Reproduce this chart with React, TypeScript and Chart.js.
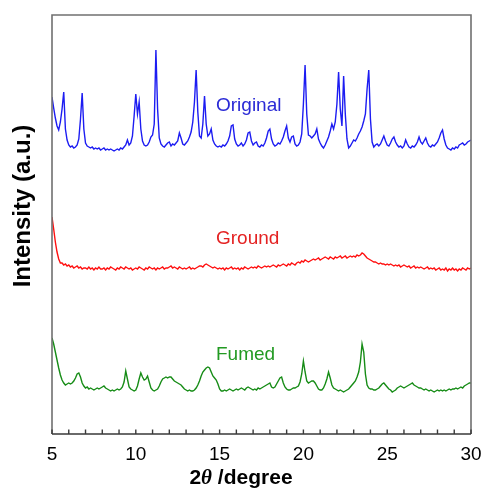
import { useEffect, useRef } from "react";
import { Chart, registerables } from "chart.js";

Chart.register(...registerables);

// 2θ sampling grid: START, START+STEP, ... 30
const TWO_THETA_START = 5;
const TWO_THETA_STEP = 0.1;

// Intensities (a.u.), one row per degree (x.0 ... x.9), last value at 30.0
const ORIGINAL = [
  337, 326, 316, 308, 304, 312, 325, 342, 305, 294,
  289, 287, 288, 286, 287, 289, 295, 315, 341, 305,
  291, 288, 287, 286, 287, 285, 286, 285, 286, 284,
  285, 286, 284, 285, 284, 285, 284, 283, 284, 285,
  284, 286, 285, 287, 289, 294, 289, 291, 298, 318,
  340, 320, 332, 305, 293, 289, 288, 289, 292, 297,
  299, 310, 384, 325, 296, 290, 288, 287, 289, 291,
  292, 288, 290, 289, 291, 293, 301, 296, 290, 289,
  291, 293, 297, 302, 312, 332, 364, 322, 298, 296,
  310, 338, 310, 298, 300, 305, 294, 290, 288, 287,
  288, 287, 289, 288, 290, 293, 298, 308, 309, 295,
  290, 288, 289, 291, 288, 290, 294, 301, 302, 293,
  289, 291, 292, 288, 287, 289, 288, 291, 296, 303,
  305, 295, 290, 288, 289, 291, 290, 293, 297, 303,
  308, 296, 292, 297, 298, 290, 288, 289, 292, 300,
  330, 369, 320, 299, 298, 296, 298, 300, 305, 295,
  291, 288, 286, 289, 293, 297, 303, 310, 305, 312,
  330, 362, 325, 308, 358, 320, 295, 286, 288, 291,
  294, 293, 296, 300, 303, 307, 313, 320, 345, 364,
  315, 292, 287, 289, 290, 288, 290, 294, 298, 293,
  289, 288, 291, 295, 297, 292, 289, 287, 288, 286,
  288, 294, 290, 287, 286, 288, 287, 289, 292, 297,
  292, 290, 293, 296, 291, 288, 287, 289, 288, 290,
  292, 296, 301, 304, 295, 289, 286, 285, 284, 286,
  285, 287, 286, 289, 290, 291, 289, 290, 292, 293,
  294,
];

const GROUND = [
  217, 205, 192, 182, 175, 171, 171, 169, 170, 168,
  169, 167, 168, 166, 167, 168, 166, 167, 165, 166,
  166, 165, 167, 165, 166, 164, 166, 165, 167, 165,
  165, 166, 164, 166, 165, 167, 166, 165, 164, 166,
  165, 167, 166, 165, 167, 166, 165, 166, 164, 165,
  166, 165, 167, 166, 165, 164, 166, 165, 167, 166,
  165, 166, 164, 166, 165, 166, 167, 165, 166, 166,
  167, 168, 166, 167, 166, 165, 167, 166, 165, 166,
  165, 166, 167, 165, 166, 165, 166, 167, 168, 168,
  167, 169, 170, 169, 168, 167, 166, 167, 166, 165,
  166, 165, 166, 164, 166, 165, 166, 167, 165, 166,
  165, 166, 164, 166, 165, 167, 166, 165, 166, 167,
  166, 167, 166, 168, 167, 166, 167, 168, 167, 168,
  167, 168, 169, 168, 167, 169, 168, 169, 170, 169,
  168, 170, 169, 171, 170, 169, 171, 172, 171, 173,
  172, 174, 173, 172, 173, 174, 175, 174, 175, 176,
  174, 175, 176, 177, 176, 175, 177, 176, 175, 177,
  176, 177, 178, 176, 177, 178, 176, 177, 178, 177,
  178, 177, 179, 178, 179, 181, 180, 178, 176, 175,
  174, 173, 172, 172, 171, 170, 171, 170, 170, 169,
  170, 169, 170, 169, 168, 169, 168, 169, 167, 168,
  169, 168, 167, 168, 166, 167, 168, 166, 167, 166,
  167, 166, 165, 166, 167, 165, 166, 165, 166, 164,
  165, 166, 164, 165, 164, 166, 163, 165, 164, 166,
  164, 165, 163, 165, 164, 166, 165, 164, 166, 165,
  166,
];

const FUMED = [
  96, 90, 82, 74, 66, 59, 54, 51, 49, 50,
  51, 50, 51, 53, 56, 60, 61, 57, 51, 48,
  46, 47, 45, 46, 45, 44, 45, 46, 45, 46,
  47, 48, 46, 45, 44, 43, 44, 43, 44, 45,
  44, 45, 47, 52, 63, 55, 47, 45, 44, 43,
  44, 48, 55, 61, 57, 54, 55, 58, 52, 46,
  44, 43, 44, 45, 48, 52, 55, 56, 57, 56,
  57, 57, 55, 53, 52, 51, 50, 49, 47, 45,
  44, 43, 44, 43, 43, 44, 46, 49, 53, 58,
  62, 64, 66, 67, 66, 62, 58, 56, 54, 50,
  45, 43, 43, 44, 43, 44, 45, 44, 43, 44,
  45, 44, 45, 46, 45, 44, 46, 47, 46, 45,
  44, 45, 44, 46, 45, 46, 47, 48, 49, 50,
  51, 47, 46, 47, 50, 53, 56, 57, 51, 47,
  45, 44, 44, 45, 46, 46, 47, 48, 52, 60,
  73, 62, 53, 51, 52, 53, 53, 51, 48, 45,
  44, 44, 46, 50, 55, 62, 56, 49, 46, 45,
  44, 43, 44, 43, 42, 43, 44, 45, 47, 49,
  51, 53, 57, 62, 72, 90, 82, 60, 49, 46,
  45, 45, 44, 44, 45, 46, 48, 50, 51, 49,
  47, 45, 44, 42, 43, 44, 46, 47, 48, 47,
  46, 47, 48, 49, 50, 51, 49, 48, 47, 46,
  46, 45, 44, 45, 44, 43, 44, 43, 42, 43,
  44, 43, 44, 43, 44, 43, 44, 45, 44, 45,
  45, 46, 45, 46, 47, 46, 48, 49, 50, 51,
  51,
];

const SERIES_NAMES = ["Original", "Ground", "Fumed"];
const X_TICKS = [5, 10, 15, 20, 25, 30];
const X_MIN = 5;
const X_MAX = 30;
const Y_MIN = 0;
const Y_MAX = 419;

const LINE_COLORS = ["#1c1cf2", "#ff1010", "#168c16"];
const TEXT_COLORS = ["#2a2ad6", "#e42222", "#229a22"];
const LABEL_BASELINES = [111, 244, 360];
const FONT = "'Liberation Sans', Arial, sans-serif";

function toPoints(vals: number[]) {
  return vals.map((v, i) => ({
    x: Math.round((TWO_THETA_START + i * TWO_THETA_STEP) * 10) / 10,
    y: v,
  }));
}

const decorPlugin = {
  id: "decor",
  afterDraw(chart: any) {
    const ctx = chart.ctx;
    const a = chart.chartArea;
    const xs = chart.scales.x;
    ctx.save();
    // frame
    ctx.lineWidth = 1.6;
    ctx.strokeStyle = "#707070";
    ctx.beginPath();
    ctx.moveTo(a.left, a.bottom);
    ctx.lineTo(a.left, a.top);
    ctx.lineTo(a.right, a.top);
    ctx.lineTo(a.right, a.bottom);
    ctx.stroke();
    ctx.strokeStyle = "#3a3a3a";
    ctx.lineWidth = 1.4;
    ctx.beginPath();
    ctx.moveTo(a.left, a.bottom);
    ctx.lineTo(a.right, a.bottom);
    // inward minor/major ticks every degree
    for (let d = X_MIN; d <= X_MAX; d++) {
      const px = xs.getPixelForValue(d);
      ctx.moveTo(px, a.bottom);
      ctx.lineTo(px, a.bottom - 4.5);
    }
    ctx.stroke();

    // series labels
    ctx.font = `19px ${FONT}`;
    ctx.textAlign = "left";
    ctx.textBaseline = "alphabetic";
    SERIES_NAMES.forEach((n, i) => {
      ctx.fillStyle = TEXT_COLORS[i];
      ctx.fillText(n, 216, LABEL_BASELINES[i]);
    });

    // x title: 2θ /degree
    ctx.fillStyle = "#000";
    const f1 = `bold 21px ${FONT}`;
    const f2 = `italic bold 21px 'Liberation Serif', 'Times New Roman', serif`;
    ctx.font = f1;
    const w1 = ctx.measureText("2").width;
    const w3 = ctx.measureText(" /degree").width;
    ctx.font = f2;
    const w2 = ctx.measureText("\u03B8").width;
    const total = w1 + w2 + w3;
    let x = 241 - total / 2;
    const by = 484;
    ctx.font = f1;
    ctx.fillText("2", x, by);
    x += w1;
    ctx.font = f2;
    ctx.fillText("\u03B8", x, by);
    x += w2;
    ctx.font = f1;
    ctx.fillText(" /degree", x, by);

    // y title
    ctx.translate(23, 206);
    ctx.rotate(-Math.PI / 2);
    ctx.font = `bold 24px ${FONT}`;
    ctx.textAlign = "center";
    ctx.textBaseline = "middle";
    ctx.fillText("Intensity (a.u.)", 0, 0);
    ctx.restore();
  },
};

export default function App() {
  const ref = useRef<HTMLCanvasElement | null>(null);
  useEffect(() => {
    if (!ref.current) return;
    const data = [ORIGINAL, GROUND, FUMED];
    const chart = new Chart(ref.current, {
      type: "line",
      data: {
        datasets: SERIES_NAMES.map((n, i) => ({
          label: n,
          data: toPoints(data[i]),
          borderColor: LINE_COLORS[i],
          borderWidth: 1.4,
          pointRadius: 0,
          tension: 0,
          fill: false,
        })),
      },
      options: {
        responsive: false,
        animation: false,
        events: [],
        layout: { padding: { left: 52, right: 14, top: 15, bottom: 0 } },
        plugins: { legend: { display: false }, tooltip: { enabled: false } },
        scales: {
          x: {
            type: "linear",
            min: X_MIN,
            max: X_MAX,
            afterBuildTicks: (s: any) => {
              s.ticks = X_TICKS.map((v) => ({ value: v }));
            },
            afterFit: (s: any) => {
              s.height = 59;
              s.paddingLeft = 0;
              s.paddingRight = 0;
            },
            grid: { display: false, drawTicks: false },
            border: { display: false },
            ticks: {
              color: "#000",
              padding: 9,
              maxRotation: 0,
              font: { size: 19, family: FONT },
            },
          },
          y: {
            type: "linear",
            min: Y_MIN,
            max: Y_MAX,
            display: false,
          },
        },
      },
      plugins: [decorPlugin],
    });
    return () => chart.destroy();
  }, []);
  return (
    <div style={{ position: "fixed", left: 0, top: 0, width: 485, height: 493, background: "#fff" }}>
      <canvas ref={ref} width={485} height={493} style={{ width: 485, height: 493 }} />
    </div>
  );
}
